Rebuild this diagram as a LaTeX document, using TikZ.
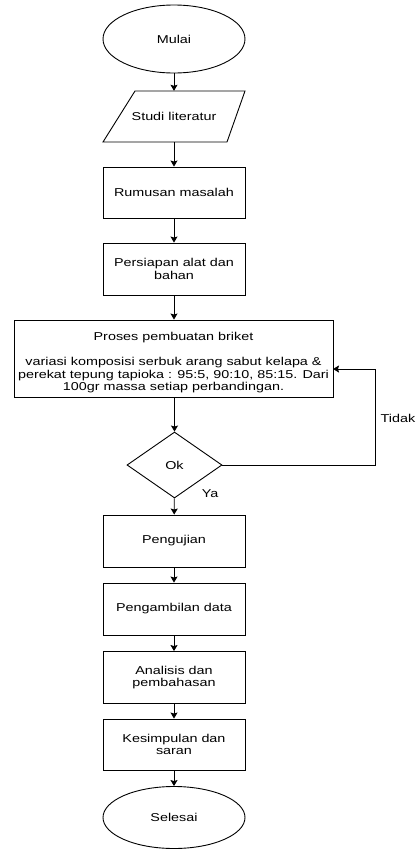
\documentclass[tikz,border=0pt]{standalone}
\usepackage{fontspec}
\setmainfont[FakeStretch=1.26]{Liberation Sans}
\usetikzlibrary{shapes.geometric,arrows.meta}
\begin{document}
\begin{tikzpicture}[x=1pt,y=-1pt,
  every node/.style={font=\fontsize{11.4}{12.5}\selectfont, inner sep=0pt},
  proc/.style={draw, line width=0.9pt, minimum width=142pt, minimum height=52pt, align=center},
  term/.style={draw, line width=0.9pt, ellipse, minimum width=142pt, minimum height=68pt},
  dec/.style={draw, line width=0.9pt, diamond, minimum width=95pt, minimum height=66pt},
  arr/.style={line width=0.9pt, -{Stealth[length=6pt,width=7pt,inset=1pt]}},
  lbl/.style={font=\fontsize{11.4}{12.5}\selectfont}
]
\useasboundingbox (0,0) rectangle (417,849);
\node[term] (mulai) at (174,39) {Mulai};
\node[minimum width=110pt, minimum height=51pt] (lit) at (174,116.5) {Studi literatur};
\draw[line width=0.9pt] (135,91) -- (245,91) -- (227,142) -- (103,142) -- cycle;
\node[proc, minimum height=51pt] (rum) at (174,192.5) {Rumusan masalah};
\node[proc] (pers) at (174,269) {Persiapan alat dan\\bahan};
\node[draw, line width=0.9pt, minimum width=319pt, minimum height=77pt] (proses) at (173.5,358.5) {};
\node[align=center] (ptext) at (173.5,363) {Proses pembuatan briket\\[12.5pt]variasi komposisi serbuk arang sabut kelapa \&\\perekat tepung tapioka : 95:5, 90:10, 85:15. Dari\\100gr massa setiap perbandingan.};
\node[dec] (ok) at (174.5,465) {Ok};
\node[proc] (uji) at (174,541) {Pengujian};
\node[proc] (ambil) at (174,609) {Pengambilan data};
\node[proc] (anal) at (174,677.5) {Analisis dan\\pembahasan};
\node[proc, minimum height=51pt] (kes) at (174,744.5) {Kesimpulan dan\\saran};
\node[term, minimum height=62pt] (selesai) at (174,817.5) {Selesai};
\coordinate (c1) at (375,465);
\coordinate (c2) at (375,369);
\coordinate (c3) at (333,369);
\draw[arr] (mulai) -- (lit.north);
\draw[arr] (lit.south) -- (rum);
\draw[arr] (rum) -- (pers);
\draw[arr] (pers) -- (pers|-proses.north);
\draw[arr] (ok.north|-proses.south) -- (ok.north);
\draw[arr] (ok) -- (uji);
\draw[arr] (uji) -- (ambil);
\draw[arr] (ambil) -- (anal);
\draw[arr] (anal) -- (kes);
\draw[arr] (kes) -- (selesai);
\draw[arr] (ok.east) -- (c1) -- (c2) -- (c3);
\node[lbl] (tidak) at (398,418) {Tidak};
\node[lbl] (ya) at (210,494) {Ya};
\end{tikzpicture}
\end{document}
